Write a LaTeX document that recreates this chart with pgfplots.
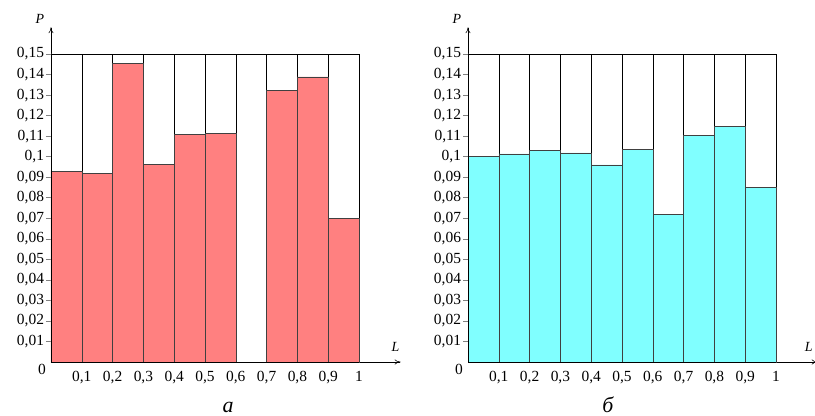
\documentclass[border=0pt]{standalone}
\usepackage{fontspec}
\setmainfont{Liberation Serif}
\usepackage{pgfplots}
\pgfplotsset{compat=1.18}
\usetikzlibrary{arrows.meta}
\definecolor{barred}{HTML}{FF8080}
\definecolor{barcyan}{HTML}{80FFFF}
\pgfplotsset{hist/.style={
  scale only axis, width=349.6bp, height=334.7bp,
  xmin=0, xmax=1.135, ymin=0, ymax=0.163,
  axis lines=left,
  axis line style={-{To[length=6pt,width=5pt]}, line width=0.6pt},
  xtick={0.1,0.2,0.3,0.4,0.5,0.6,0.7,0.8,0.9,1},
  xticklabels={{0,1},{0,2},{0,3},{0,4},{0,5},{0,6},{0,7},{0,8},{0,9},1},
  ytick={0.01,0.02,0.03,0.04,0.05,0.06,0.07,0.08,0.09,0.1,0.11,0.12,0.13,0.14,0.15},
  yticklabels={{0,01},{0,02},{0,03},{0,04},{0,05},{0,06},{0,07},{0,08},{0,09},{0,1},{0,11},{0,12},{0,13},{0,14},{0,15}},
  major tick length=5bp, tick align=outside,
  xtick style={draw=none}, ytick style={line width=0.5pt},
  ticklabel style={font=\fontsize{15.5}{17}\selectfont},
  yticklabel style={xshift=1.5bp},
  xticklabel style={yshift=-1bp},
  anchor=south west, clip=false,
  /pgf/number format/assume math mode=true,
}}
\begin{document}
\begin{tikzpicture}
\path[use as bounding box] (0,0) rectangle (815bp,416bp);
% ---------- a ----------
\begin{axis}[hist, at={(51bp,54bp)}]
\addplot[ybar interval, fill=white, draw=black, line width=0.6pt] coordinates {
 (0,0.15)(0.1,0.15)(0.2,0.15)(0.3,0.15)(0.4,0.15)(0.5,0.15)(0.6,0.15)(0.7,0.15)(0.8,0.15)(0.9,0.15)(1,0.15)};
\addplot[ybar interval, fill=barred, draw=black!75, line width=0.6pt] coordinates {
 (0,0.0930)(0.1,0.0920)(0.2,0.1456)(0.3,0.0962)(0.4,0.1107)(0.5,0.1115)(0.6,0)(0.7,0.1321)(0.8,0.1388)(0.9,0.0698)(1,0.0698)};
\draw[line width=0.6pt] (axis cs:0,0) -- (axis cs:0,0.15);
\draw[line width=0.6pt] (axis cs:0,0) -- (axis cs:1,0);
\node[font=\fontsize{15.5}{17}\selectfont] at ([xshift=-9bp,yshift=-7bp]axis cs:0,0) {0};
\node[font=\fontsize{14}{16}\selectfont\itshape] at ([xshift=-11bp,yshift=8bp]axis cs:0,0.163) {P};
\node[font=\fontsize{14}{16}\selectfont\itshape] at ([xshift=-5bp,yshift=15bp]axis cs:1.135,0) {L};
\end{axis}
% ---------- b ----------
\begin{axis}[hist, at={(468bp,54bp)}]
\addplot[ybar interval, fill=white, draw=black, line width=0.6pt] coordinates {
 (0,0.15)(0.1,0.15)(0.2,0.15)(0.3,0.15)(0.4,0.15)(0.5,0.15)(0.6,0.15)(0.7,0.15)(0.8,0.15)(0.9,0.15)(1,0.15)};
\addplot[ybar interval, fill=barcyan, draw=black!75, line width=0.6pt] coordinates {
 (0,0.1003)(0.1,0.1013)(0.2,0.1029)(0.3,0.1018)(0.4,0.0960)(0.5,0.1035)(0.6,0.0717)(0.7,0.1104)(0.8,0.1146)(0.9,0.0852)(1,0.0852)};
\draw[line width=0.6pt] (axis cs:0,0) -- (axis cs:0,0.15);
\draw[line width=0.6pt] (axis cs:0,0) -- (axis cs:1,0);
\node[font=\fontsize{15.5}{17}\selectfont] at ([xshift=-9bp,yshift=-7bp]axis cs:0,0) {0};
\node[font=\fontsize{14}{16}\selectfont\itshape] at ([xshift=-11bp,yshift=8bp]axis cs:0,0.163) {P};
\node[font=\fontsize{14}{16}\selectfont\itshape, anchor=east] at (axis cs:1.13,0.0073) {L};
\end{axis}
\node[anchor=base, font=\fontsize{22}{24}\selectfont\itshape] at (228bp,4bp) {а};
\node[anchor=base, font=\fontsize{22}{24}\selectfont\itshape] at (608bp,4bp) {б};
\end{tikzpicture}
\end{document}
